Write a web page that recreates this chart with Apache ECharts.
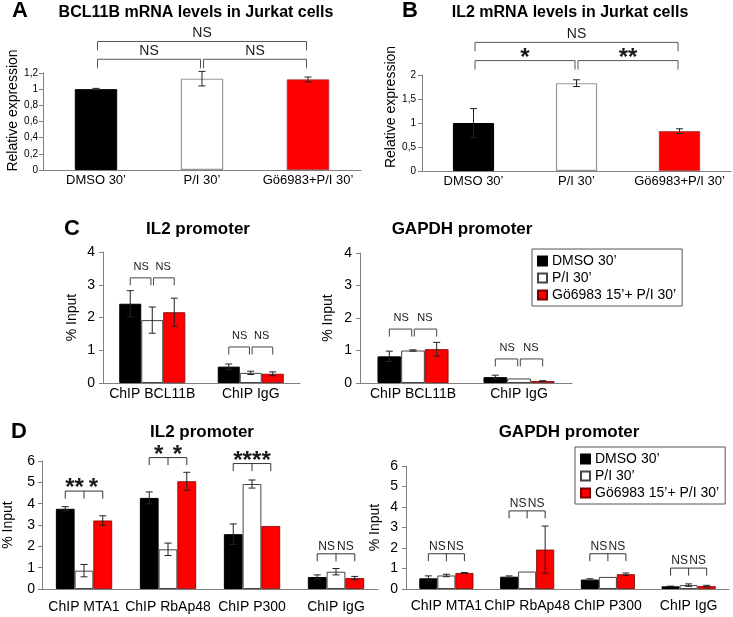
<!DOCTYPE html>
<html><head><meta charset="utf-8">
<script src="https://cdn.jsdelivr.net/npm/echarts@6/dist/echarts.min.js"></script>
<style>html,body{margin:0;padding:0;background:#fff}#c{width:733px;height:617px}</style>
</head><body><div id="c"></div>
<script>
// ---------------- DATA ----------------
const mrnaCats = ['DMSO 30’', 'P/I 30’', 'Gö6983+P/I 30’'];
// Panel A: BCL11B mRNA
const aValues = [1.00, 1.13, 1.12];
const aErrors = [0.01, 0.09, 0.03];
const aTicks = [0, 0.2, 0.4, 0.6, 0.8, 1.0, 1.2];
const aSig = [[0, 2, 1.59, 'NS'], [0, 1, 1.37, 'NS'], [1, 2, 1.37, 'NS']];
// Panel B: IL2 mRNA
const bValues = [1.00, 1.83, 0.83];
const bErrors = [0.30, 0.07, 0.05];
const bTicks = [0, 0.5, 1, 1.5, 2];
const bSig = [[0, 2, 2.68, 'NS'], [0, 1, 2.30, '*'], [1, 2, 2.30, '**']];

const groupNames = ['DMSO 30’', 'P/I 30’', 'Gö6983 15’+ P/I 30’'];
// Panel C
const cCats = ['ChIP BCL11B', 'ChIP IgG'];
const cTicks = [0, 1, 2, 3, 4];
const cIL2Dmso = [2.42, 0.50], cIL2DmsoErr = [0.40, 0.08];
const cIL2PI = [1.92, 0.31], cIL2PIErr = [0.40, 0.05];
const cIL2Go = [2.16, 0.28], cIL2GoErr = [0.43, 0.06];
const cGapdhDmso = [0.82, 0.18], cGapdhDmsoErr = [0.16, 0.06];
const cGapdhPI = [1.00, 0.14], cGapdhPIErr = [0.02, 0.00];
const cGapdhGo = [1.04, 0.06], cGapdhGoErr = [0.21, 0.01];
const cIL2SigLevel = [3.21, 1.10], cIL2SigLeft = ['NS', 'NS'], cIL2SigRight = ['NS', 'NS'];
const cGapdhSigLevel = [1.66, 0.74], cGapdhSigLeft = ['NS', 'NS'], cGapdhSigRight = ['NS', 'NS'];
// Panel D
const dCats = ['ChIP MTA1', 'ChIP RbAp48', 'ChIP P300', 'ChIP IgG'];
const dTicks = [0, 1, 2, 3, 4, 5, 6];
const dIL2Dmso = [3.76, 4.27, 2.57, 0.56], dIL2DmsoErr = [0.10, 0.28, 0.48, 0.10];
const dIL2PI = [0.86, 1.86, 4.92, 0.81], dIL2PIErr = [0.29, 0.29, 0.19, 0.15];
const dIL2Go = [3.21, 5.05, 2.95, 0.51], dIL2GoErr = [0.22, 0.42, 0.00, 0.08];
const dGapdhDmso = [0.52, 0.60, 0.46, 0.13], dGapdhDmsoErr = [0.12, 0.04, 0.04, 0.01];
const dGapdhPI = [0.66, 0.85, 0.59, 0.19], dGapdhPIErr = [0.06, 0.00, 0.00, 0.06];
const dGapdhGo = [0.78, 1.92, 0.72, 0.14], dGapdhGoErr = [0.02, 1.15, 0.06, 0.04];
const dIL2SigLevel = [4.59, 6.16, 5.88, 1.65], dIL2SigLeft = ['**', '*', '**', 'NS'], dIL2SigRight = ['*', '*', '**', 'NS'];
const dGapdhSigLevel = [1.72, 3.81, 1.72, 1.02], dGapdhSigLeft = ['NS', 'NS', 'NS', 'NS'], dGapdhSigRight = ['NS', 'NS', 'NS', 'NS'];

// ---------------- STYLE ----------------
const FONT = "'Liberation Sans', Arial, sans-serif";
const INK = '#1a1a1a';
const AXIS = '#808080';
const GROUP_GAP = 0.33;
const groupStyles = [
  { color: '#000000', borderColor: '#000000', borderWidth: 1 },
  { color: '#ffffff', borderColor: '#444444', borderWidth: 1 },
  { color: '#ff0000', borderColor: '#7a0000', borderWidth: 0.8 }
];
const mrnaStyles = [
  { color: '#000000', borderColor: '#000000', borderWidth: 1 },
  { color: '#ffffff', borderColor: '#999999', borderWidth: 1.2 },
  { color: '#ff0000', borderColor: '#aa3333', borderWidth: 0.8 }
];

function fmtComma(v) { return String(+v.toFixed(1)).replace('.', ','); }

function lineEl(x1, y1, x2, y2, color, w) {
  return { type: 'line', shape: { x1, y1, x2, y2 }, style: { stroke: color || INK, lineWidth: w || 1 } };
}
function polyEl(pts, color) {
  return { type: 'polyline', shape: { points: pts }, style: { stroke: color, lineWidth: 1, fill: null } };
}
function sigText(x, y, label, nsSize, nsOff, starOff) {
  const star = label.indexOf('*') >= 0;
  return {
    type: 'text', x: x, y: y - (star ? starOff : nsOff),
    style: {
      text: label, fill: INK, align: 'center', verticalAlign: 'middle',
      font: star ? ('bold 24px ' + FONT) : (nsSize + 'px ' + FONT)
    }
  };
}

// error bars: data [cat, barIndex, value, err]
function errorRenderer(nBars, gap) {
  return function (params, api) {
    const cat = api.value(0), bi = api.value(1), v = api.value(2), e = api.value(3);
    if (!(e > 0)) return null;
    const band = api.size([1, 0])[0];
    const bw = nBars > 1 ? band * (1 - gap) / nBars : 0;
    const off = (bi - (nBars - 1) / 2) * bw;
    const t = api.coord([cat, v + e]);
    const b = api.coord([cat, v - e]);
    const x = t[0] + off, cap = 3.5;
    return {
      type: 'group', children: [
        lineEl(x, t[1], x, b[1], '#222'),
        lineEl(x - cap, t[1], x + cap, t[1], '#222'),
        lineEl(x - cap, b[1], x + cap, b[1], '#222')
      ]
    };
  };
}

// brackets between categories: data [from, to, level]
function spanBracketRenderer(labels, drop, nsSize, nsOff, starOff) {
  return function (params, api) {
    const a = api.coord([api.value(0), api.value(2)]);
    const b = api.coord([api.value(1), api.value(2)]);
    const x1 = a[0] + 1.5, x2 = b[0] - 1.5, y = a[1];
    return {
      type: 'group', children: [
        polyEl([[x1, y + drop], [x1, y], [x2, y], [x2, y + drop]], '#555'),
        sigText((x1 + x2) / 2, y, labels[params.dataIndex], nsSize, nsOff, starOff)
      ]
    };
  };
}

// brackets within a category of 3 grouped bars: data [cat, level]
function groupBracketRenderer(left, right, split, drop, nsSize, nsOff, starOff) {
  return function (params, api) {
    const c = api.coord([api.value(0), api.value(1)]);
    const band = api.size([1, 0])[0];
    const bw = band * (1 - GROUP_GAP) / 3;
    const x0 = c[0] - bw, x1 = c[0], x2 = c[0] + bw, y = c[1], yd = y + drop;
    const kids = [];
    if (split) {
      kids.push(polyEl([[x0, yd], [x0, y], [x1 - 1.3, y], [x1 - 1.3, yd]], '#444'));
      kids.push(polyEl([[x1 + 1.3, yd], [x1 + 1.3, y], [x2, y], [x2, yd]], '#444'));
    } else {
      kids.push(polyEl([[x0, yd], [x0, y], [x2, y], [x2, yd]], '#333'));
      kids.push(lineEl(x1, y, x1, yd, '#333'));
    }
    const i = params.dataIndex;
    kids.push(sigText((x0 + x1) / 2, y, left[i], nsSize, nsOff, starOff));
    kids.push(sigText((x1 + x2) / 2, y, right[i], nsSize, nsOff, starOff));
    return { type: 'group', children: kids };
  };
}

// ---------------- LAYOUT ----------------
const grids = [
  { left: 43, top: 73, width: 318, height: 97 },    // A
  { left: 422, top: 75, width: 309, height: 96 },   // B
  { left: 103, top: 252, width: 197, height: 131 }, // C left
  { left: 360, top: 253, width: 212, height: 130 }, // C right
  { left: 42, top: 461, width: 336, height: 128 },  // D left
  { left: 406, top: 466, width: 323, height: 123 }  // D right
];

function xAxis(gi, cats, fontSize, margin) {
  return {
    type: 'category', gridIndex: gi, data: cats,
    axisLine: { lineStyle: { color: AXIS, width: 1 } },
    axisTick: { length: 4, lineStyle: { color: AXIS } },
    axisLabel: { color: '#000', fontFamily: FONT, fontSize: fontSize, margin: margin, interval: 0 }
  };
}
function yAxis(gi, ticks, fontSize, margin, name, nameGap, namePad, fmt) {
  return {
    type: 'value', gridIndex: gi, min: ticks[0], max: ticks[ticks.length - 1],
    interval: ticks[1] - ticks[0],
    axisLine: { show: true, lineStyle: { color: AXIS, width: 1 } },
    axisTick: { show: true, length: 4, lineStyle: { color: AXIS } },
    splitLine: { show: false },
    axisLabel: { color: '#000', fontFamily: FONT, fontSize: fontSize, margin: margin, formatter: fmt },
    name: name, nameLocation: 'middle', nameGap: nameGap,
    nameTextStyle: { color: '#000', fontFamily: FONT, fontSize: 14, padding: [0, 0, 0, namePad] }
  };
}

const series = [];
function mrnaPanel(gi, name, values, errors, sig) {
  series.push({
    name: name, type: 'bar', xAxisIndex: gi, yAxisIndex: gi,
    barCategoryGap: '60%',
    data: values.map((v, i) => ({ value: v, itemStyle: mrnaStyles[i] })),
    z: 2
  });
  series.push({
    type: 'custom', xAxisIndex: gi, yAxisIndex: gi, z: 5, silent: true,
    renderItem: errorRenderer(1, 0),
    encode: { x: 0, y: 2 },
    data: values.map((v, i) => [i, 0, v, errors[i]])
  });
  series.push({
    type: 'custom', xAxisIndex: gi, yAxisIndex: gi, z: 5, silent: true,
    renderItem: spanBracketRenderer(sig.map(s => s[3]), 9, 14, 8, 2.5),
    encode: { x: [0, 1], y: 2 },
    data: sig.map(s => [s[0], s[1], s[2]])
  });
}
function groupPanel(gi, vals, errs, sigLevel, sigL, sigR, split, nsSize, nsOff, starOff) {
  vals.forEach((arr, k) => {
    series.push({
      name: groupNames[k], type: 'bar', xAxisIndex: gi, yAxisIndex: gi,
      barGap: '0%', barCategoryGap: (GROUP_GAP * 100) + '%',
      itemStyle: groupStyles[k], data: arr, z: 2
    });
  });
  const ed = [];
  vals.forEach((arr, k) => arr.forEach((v, i) => ed.push([i, k, v, errs[k][i]])));
  series.push({
    type: 'custom', xAxisIndex: gi, yAxisIndex: gi, z: 5, silent: true,
    renderItem: errorRenderer(3, GROUP_GAP), encode: { x: 0, y: 2 }, data: ed
  });
  series.push({
    type: 'custom', xAxisIndex: gi, yAxisIndex: gi, z: 5, silent: true,
    renderItem: groupBracketRenderer(sigL, sigR, split, 7.5, nsSize, nsOff, starOff),
    encode: { x: 0, y: 1 },
    data: sigLevel.map((l, i) => [i, l])
  });
}

mrnaPanel(0, 'BCL11B mRNA', aValues, aErrors, aSig);
mrnaPanel(1, 'IL2 mRNA', bValues, bErrors, bSig);
groupPanel(2, [cIL2Dmso, cIL2PI, cIL2Go], [cIL2DmsoErr, cIL2PIErr, cIL2GoErr], cIL2SigLevel, cIL2SigLeft, cIL2SigRight, true, 11, 11, 3);
groupPanel(3, [cGapdhDmso, cGapdhPI, cGapdhGo], [cGapdhDmsoErr, cGapdhPIErr, cGapdhGoErr], cGapdhSigLevel, cGapdhSigLeft, cGapdhSigRight, true, 11, 11, 3);
groupPanel(4, [dIL2Dmso, dIL2PI, dIL2Go], [dIL2DmsoErr, dIL2PIErr, dIL2GoErr], dIL2SigLevel, dIL2SigLeft, dIL2SigRight, false, 12, 7, 2.5);
groupPanel(5, [dGapdhDmso, dGapdhPI, dGapdhGo], [dGapdhDmsoErr, dGapdhPIErr, dGapdhGoErr], dGapdhSigLevel, dGapdhSigLeft, dGapdhSigRight, false, 12, 7, 2.5);

function txt(x, y, text, size, bold) {
  return {
    type: 'text', x: x, y: y, silent: true,
    style: { text: text, fill: '#000', align: 'center', verticalAlign: 'middle',
      font: (bold ? 'bold ' : '') + size + 'px ' + FONT }
  };
}

const legendCommon = {
  orient: 'vertical', icon: 'rect', itemWidth: 9, itemHeight: 9, itemGap: 3,
  selectedMode: false, borderColor: '#555', borderWidth: 1, padding: [5, 6, 4, 5],
  backgroundColor: '#fff',
  textStyle: { color: '#000', fontFamily: FONT, fontSize: 14 },
  data: groupNames
};

const option = {
  animation: false,
  backgroundColor: '#fff',
  grid: grids,
  xAxis: [
    xAxis(0, mrnaCats, 13, 4), xAxis(1, mrnaCats, 13, 4),
    xAxis(2, cCats, 14, 4), xAxis(3, cCats, 14, 4),
    xAxis(4, dCats, 14, 11), xAxis(5, dCats, 14, 10)
  ],
  yAxis: [
    yAxis(0, aTicks, 10, 5, 'Relative expression', 20, 22, fmtComma),
    yAxis(1, bTicks, 10, 6, 'Relative expression', 24, 32, fmtComma),
    yAxis(2, cTicks, 14, 8, '% Input', 24, 0),
    yAxis(3, cTicks, 14, 8, '% Input', 25, 0),
    yAxis(4, dTicks, 14, 7, '% Input', 27, 0),
    yAxis(5, dTicks, 14, 8, '% Input', 24, 0)
  ],
  legend: [
    Object.assign({ left: 532, top: 249 }, legendCommon),
    Object.assign({ left: 575, top: 447 }, legendCommon)
  ],
  graphic: [
    txt(20, 11, 'A', 22, true), txt(410, 11, 'B', 22, true),
    txt(72, 229, 'C', 22, true), txt(19, 432, 'D', 22, true),
    txt(196, 13, 'BCL11B mRNA levels in Jurkat cells', 16, true),
    txt(570, 13, 'IL2 mRNA levels in Jurkat cells', 16, true),
    txt(198, 229, 'IL2 promoter', 17, true),
    txt(462, 229, 'GAPDH promoter', 17, true),
    txt(202, 432, 'IL2 promoter', 17, true),
    txt(569, 432, 'GAPDH promoter', 17, true)
  ],
  series: series
};

const chart = echarts.init(document.getElementById('c'), null, { renderer: 'canvas' });
chart.setOption(option);
</script>
</body></html>
